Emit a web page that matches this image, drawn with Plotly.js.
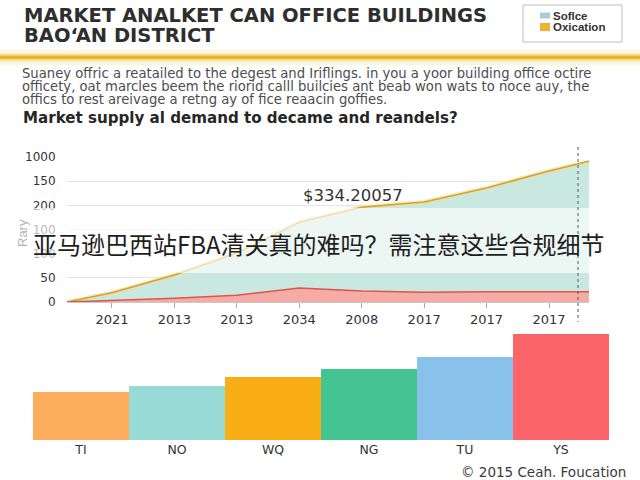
<!DOCTYPE html>
<html>
<head>
<meta charset="utf-8">
<script src="https://cdn.plot.ly/plotly-3.0.1.min.js"></script>
<style>html,body{margin:0;padding:0;background:#fff;}#chart{width:640px;height:480px;}</style>
</head>
<body>
<div id="chart"></div>
<script>
// ---- data ----
const xTickLabels = ['2021','2013','2013','2034','2008','2017','2017','2017'];
const xIndex = [-0.72, 0, 1, 2, 3, 4, 5, 6, 7, 7.64];
const supplyValues = [0, 19, 56, 101, 165, 196, 207, 236, 271, 291];
const demandValues = [0, 3, 8, 14, 29, 23, 20, 21, 21, 21];
const yTickVals = [0, 50, 100, 150, 200, 250, 300];
const yTickText = ['0', '50', '100', '100', '200', '150', '1000'];
const barCategories = ['TI', 'NO', 'WQ', 'NG', 'TU', 'YS'];
const barValues = [48, 54, 63, 71, 83, 106];
const barColors = ['#fcae5c', '#98dad6', '#faae16', '#44c492', '#88c1ea', '#fb6468'];
const legendLabels = ['Soflce', 'Oxication'];
const legendColors = ['#a9cbdc', '#f2b132'];

const W = 640, H = 480;
const px = v => v / W;
const py = v => 1 - v / H;
const FONT = 'Liberation Sans, Arial, sans-serif';
const WIDE = 'DejaVu Sans, sans-serif';

const traces = [
  { x: xIndex, y: supplyValues, type: 'scatter', mode: 'lines', fill: 'tozeroy',
    fillcolor: '#c9e9e0', line: { color: 'rgba(247,222,140,0.7)', width: 4 },
    xaxis: 'x', yaxis: 'y', hoverinfo: 'skip', showlegend: false },
  { x: xIndex, y: supplyValues, type: 'scatter', mode: 'lines',
    line: { color: '#d0a23c', width: 1.5 }, xaxis: 'x', yaxis: 'y', showlegend: false },
  { x: xIndex, y: demandValues, type: 'scatter', mode: 'lines', fill: 'tozeroy',
    fillcolor: '#f6aba5', line: { color: '#d95550', width: 1.5 },
    xaxis: 'x', yaxis: 'y', showlegend: false },
  { x: barCategories, y: barValues, type: 'bar', marker: { color: barColors, line: { width: 0 } },
    xaxis: 'x2', yaxis: 'y2', showlegend: false }
];

const annotations = [
  { text: 'MARKET ANALKET CAN OFFICE BUILDINGS', x: px(23), y: py(16), xanchor: 'left', yanchor: 'middle', borderpad: 0,
    font: { family: WIDE, size: 19.5, color: '#2e2e2e', weight: 'bold' } },
  { text: 'BAO\u02BBAN DISTRICT', x: px(23), y: py(36), xanchor: 'left', yanchor: 'middle', borderpad: 0,
    font: { family: WIDE, size: 19.5, color: '#2e2e2e', weight: 'bold' } },
  { text: 'Suaney offric a reatailed to the degest and Iriflings. in you a yoor building office octire', x: px(21), y: py(73), xanchor: 'left', yanchor: 'middle', borderpad: 0,
    font: { family: WIDE, size: 13.2, color: '#4d4d4d' } },
  { text: 'officety, oat marcles beem the riorid calll builcies ant beab won wats to noce auy, the', x: px(21), y: py(86), xanchor: 'left', yanchor: 'middle', borderpad: 0,
    font: { family: WIDE, size: 13.2, color: '#4d4d4d' } },
  { text: 'offics to rest areivage a retng ay of fice reaacin goffies.', x: px(21), y: py(99), xanchor: 'left', yanchor: 'middle', borderpad: 0,
    font: { family: WIDE, size: 13.2, color: '#4d4d4d' } },
  { text: 'Market supply al demand to decame and reandels?', x: px(21), y: py(118), xanchor: 'left', yanchor: 'middle',
    font: { family: WIDE, size: 15.1, color: '#262626', weight: 'bold' } },
  { text: legendLabels[0], x: px(552), y: py(16), xanchor: 'left', yanchor: 'middle', borderpad: 0,
    font: { family: FONT, size: 11.5, color: '#333', weight: 'bold' } },
  { text: legendLabels[1], x: px(552), y: py(27), xanchor: 'left', yanchor: 'middle', borderpad: 0,
    font: { family: FONT, size: 11.5, color: '#333', weight: 'bold' } },
  { text: '$334.20057', x: px(353), y: py(195), xanchor: 'center', yanchor: 'middle',
    font: { family: WIDE, size: 16.5, color: '#333' } },
  { text: 'Rary', x: px(23), y: py(233), xanchor: 'center', yanchor: 'middle', textangle: -90,
    font: { family: FONT, size: 13, color: '#b4b4b4' } },
  { text: '亚马逊巴西站FBA清关真的难吗？需注意这些合规细节', x: px(319), y: py(243), xanchor: 'center', yanchor: 'middle',
    font: { family: 'Noto Sans CJK SC, sans-serif', size: 24, color: '#1e1e1e' } },
  { text: '\u00A9 2015 Ceah. Foucation', x: px(627), y: py(472), xanchor: 'right', yanchor: 'middle', borderpad: 0,
    font: { family: WIDE, size: 13.5, color: '#3a3a3a' } }
].map(a => Object.assign({ xref: 'paper', yref: 'paper', showarrow: false }, a));

const shapes = [
  // legend box
  { type: 'rect', x0: px(523), x1: px(622), y0: py(5), y1: py(42), line: { color: '#bdbdbd', width: 1 }, fillcolor: '#fff' },
  { type: 'rect', x0: px(540), x1: px(550), y0: py(12.5), y1: py(18.5), line: { width: 0 }, fillcolor: legendColors[0] },
  { type: 'rect', x0: px(540), x1: px(550), y0: py(23), y1: py(31), line: { width: 0 }, fillcolor: legendColors[1] },
  // gold separator
  { type: 'rect', x0: 0, x1: 1, y0: py(50), y1: py(65), line: { width: 0 }, fillcolor: 'rgba(240,200,80,0.18)' },
  { type: 'rect', x0: 0, x1: 1, y0: py(53.5), y1: py(61.5), line: { width: 0 }, fillcolor: 'rgba(235,190,50,0.35)' },
  { type: 'rect', x0: 0, x1: 1, y0: py(55.5), y1: py(59), line: { width: 0 }, fillcolor: '#e8b726' },
  // translucent banner
  { type: 'rect', x0: 0, x1: 1, y0: py(208), y1: py(273), line: { width: 0 }, fillcolor: 'rgba(255,255,255,0.65)', layer: 'above' },
  // dotted vertical marker
  { type: 'line', x0: px(578), x1: px(578), y0: py(147), y1: py(322), line: { color: '#555', width: 1, dash: 'dot' }, layer: 'above' }
].map(s => Object.assign({ xref: 'paper', yref: 'paper' }, s));

const layout = {
  width: W, height: H,
  margin: { l: 0, r: 0, t: 0, b: 0 },
  paper_bgcolor: '#ffffff', plot_bgcolor: 'rgba(0,0,0,0)',
  showlegend: false,
  bargap: 0,
  xaxis: {
    domain: [px(67), px(589)], range: [-0.72, 7.64], anchor: 'y',
    tickmode: 'array', tickvals: [0,1,2,3,4,5,6,7], ticktext: xTickLabels,
    showgrid: false, zeroline: false, showline: true, linecolor: '#c8c8c8', linewidth: 1,
    ticks: 'outside', ticklen: 5, tickcolor: '#aaa',
    tickfont: { family: WIDE, size: 13, color: '#333' }
  },
  yaxis: {
    domain: [py(302), py(157)], range: [0, 300], anchor: 'x',
    tickmode: 'array', tickvals: yTickVals, ticktext: yTickText,
    showgrid: true, gridcolor: '#e4e4e4', gridwidth: 1, zeroline: false, showline: false,
    ticks: 'outside', ticklen: 8, tickcolor: 'rgba(0,0,0,0)',
    tickfont: { family: WIDE, size: 12, color: '#333' }
  },
  xaxis2: {
    domain: [px(33), px(609)], anchor: 'y2', type: 'category',
    showgrid: false, zeroline: false, showline: false, ticks: '',
    tickfont: { family: WIDE, size: 12.5, color: '#333' }
  },
  yaxis2: {
    domain: [py(440), py(330)], range: [0, 110], anchor: 'x2', visible: false
  },
  annotations: annotations,
  shapes: shapes
};

Plotly.newPlot('chart', traces, layout, { staticPlot: true, displayModeBar: false });
</script>
</body>
</html>
